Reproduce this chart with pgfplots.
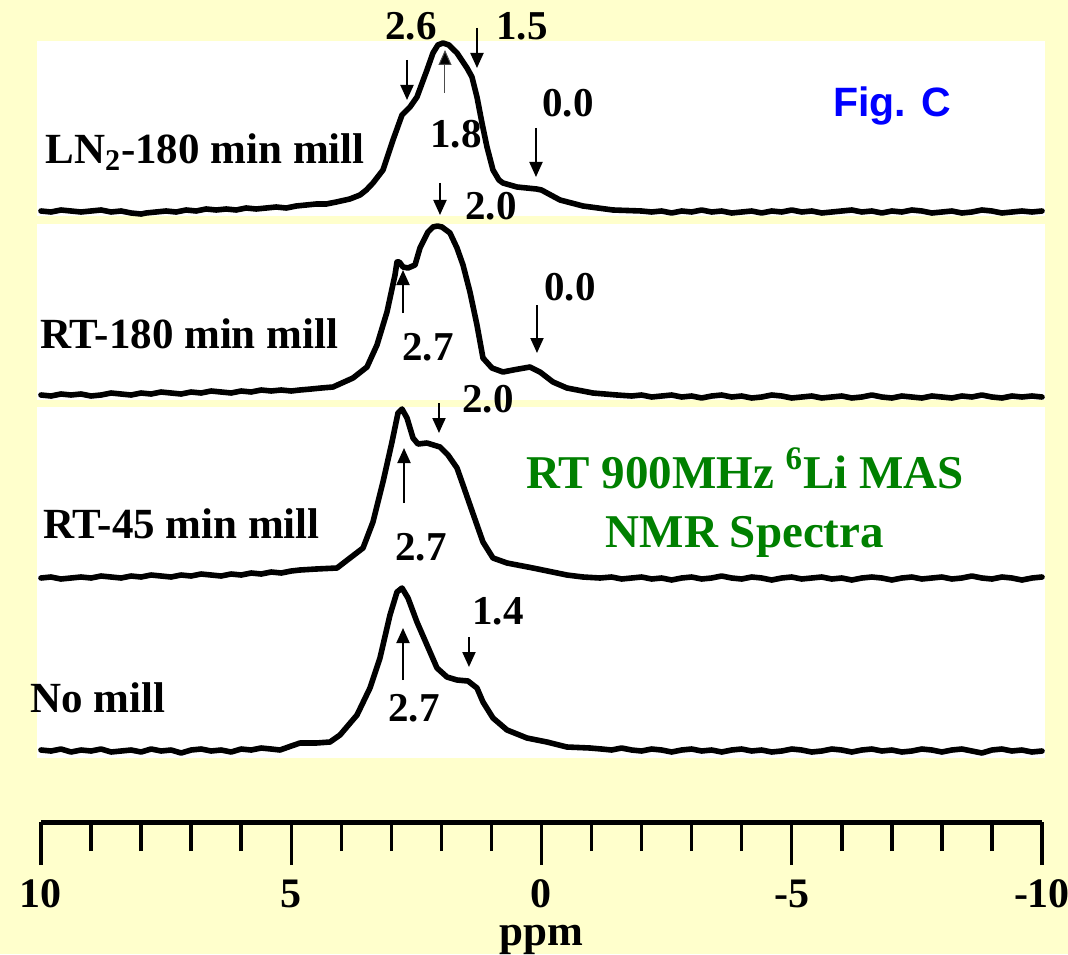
\documentclass[border=0pt]{standalone}
\usepackage{fontspec}
\setmainfont{Liberation Serif}
\newfontfamily\arialf{Liberation Sans}
\usepackage{pgfplots}
\usepackage{pgfplotstable}
\pgfplotsset{compat=1.18}
\usetikzlibrary{arrows.meta}
\definecolor{bgyellow}{HTML}{FFFFCC}
\definecolor{figgreen}{HTML}{008000}
\definecolor{figblue}{HTML}{0000FF}
\newcommand\lab{\bfseries\fontsize{21.5}{25}\selectfont}
\newcommand\num{\bfseries\fontsize{20.5}{24}\selectfont}

% py = vertical position of the trace (pixels from the top of the figure)
\pgfplotstableread{
ppm py
10.0 211
9.8 212
9.6 210
9.4 211
9.2 212
9.0 211
8.8 210
8.6 212
8.4 211
8.2 213
8.0 214
7.9 213
7.7 212
7.5 211
7.3 212
7.1 210
6.9 211
6.7 209
6.5 210
6.3 209
6.1 210
5.9 208
5.7 209
5.5 208
5.3 207
5.1 208
4.9 206
4.7 205
4.5 204
4.3 204
4.1 202
3.83 199
3.626 195
3.5 190
3.367 183
3.167 170
2.967 140
2.787 115
2.627 107
2.488 97
2.288 70
2.168 53
2.07 45
1.968 43
1.85 45
1.75 50
1.688 53
1.488 68
1.389 77
1.289 97
1.189 123
1.089 147
0.969 170
0.85 180
0.769 183
0.490 187
0.1 189
0.0 190
-0.110 193
-0.370 200
-0.829 206
-1.429 210
-2.0 211
-2.2 212
-2.4 211
-2.6 213
-2.8 211
-3.0 212
-3.2 210
-3.4 212
-3.6 211
-3.8 213
-4.0 212
-4.2 211
-4.4 213
-4.6 211
-4.8 212
-5.0 210
-5.2 212
-5.4 211
-5.6 213
-5.8 212
-6.0 211
-6.2 210
-6.4 212
-6.6 211
-6.8 213
-7.0 211
-7.2 212
-7.4 210
-7.6 211
-7.8 213
-8.0 212
-8.2 211
-8.4 213
-8.6 212
-8.8 210
-9.0 211
-9.2 213
-9.4 212
-9.6 211
-9.8 212
-10.0 211
}\specA

\pgfplotstableread{
ppm py
10.0 395
9.8 396
9.6 394
9.4 395
9.2 394
9.0 396
8.8 395
8.6 393
8.4 394
8.2 395
8.0 393
7.8 394
7.6 392
7.4 393
7.2 394
7.0 392
6.8 393
6.6 391
6.4 392
6.2 393
6.0 391
5.8 392
5.6 390
5.4 391
5.2 390
5.0 391
4.825 390
4.6 389
4.4 388
4.166 387
3.766 378
3.487 367
3.287 345
3.087 312
2.927 275
2.887 262
2.840 262
2.767 267
2.667 268
2.527 265
2.428 248
2.268 232
2.168 227
2.08 226
1.988 227
1.828 233
1.688 248
1.568 265
1.429 292
1.289 325
1.169 358
0.989 368
0.769 372
0.569 370
0.230 367
0.030 372
-0.230 382
-0.509 388
-1.029 393
-1.508 395
-1.8 396
-2.0 395
-2.2 397
-2.4 396
-2.6 395
-2.8 397
-3.0 396
-3.2 398
-3.4 396
-3.6 395
-3.8 397
-4.0 396
-4.2 398
-4.4 397
-4.6 395
-4.8 396
-5.0 398
-5.2 397
-5.4 396
-5.6 398
-5.8 397
-6.0 396
-6.2 398
-6.4 397
-6.6 395
-6.8 397
-7.0 398
-7.2 396
-7.4 397
-7.6 398
-7.8 396
-8.0 397
-8.2 398
-8.4 396
-8.6 397
-8.8 395
-9.0 397
-9.2 398
-9.4 396
-9.6 397
-9.8 396
-10.0 397
}\specB

\pgfplotstableread{
ppm py
10.0 578
9.8 577
9.6 579
9.4 578
9.2 577
9.0 578
8.8 576
8.6 577
8.4 578
8.2 576
8.0 577
7.8 575
7.6 576
7.4 577
7.2 575
7.0 576
6.8 574
6.6 575
6.4 576
6.2 574
6.0 575
5.8 573
5.6 574
5.4 572
5.2 573
5.0 571
4.825 570
4.5 569
4.086 568
3.826 558
3.566 548
3.367 522
3.167 482
2.987 442
2.867 413
2.787 409
2.687 418
2.567 438
2.468 444
2.288 443
2.028 447
1.868 455
1.688 468
1.568 485
1.429 505
1.289 525
1.169 542
0.969 558
0.689 563
0.170 568
-0.509 575
-0.829 577
-1.169 578
-1.4 577
-1.6 579
-1.8 578
-2.0 577
-2.2 579
-2.4 578
-2.6 580
-2.8 578
-3.0 577
-3.2 579
-3.4 578
-3.6 576
-3.8 578
-4.0 579
-4.2 577
-4.4 578
-4.6 580
-4.8 578
-5.0 577
-5.2 579
-5.4 578
-5.6 577
-5.8 579
-6.0 578
-6.2 580
-6.4 578
-6.6 577
-6.8 578
-7.0 580
-7.2 578
-7.4 577
-7.6 579
-7.8 578
-8.0 577
-8.2 579
-8.4 578
-8.6 576
-8.8 578
-9.0 579
-9.2 577
-9.4 578
-9.6 580
-9.8 578
-10.0 577
}\specC

\pgfplotstableread{
ppm py
10.0 750
9.8 751
9.6 749
9.4 752
9.2 750
9.0 751
8.8 749
8.6 752
8.4 751
8.2 750
8.0 752
7.8 749
7.6 751
7.4 750
7.2 753
7.0 750
6.8 749
6.6 751
6.4 750
6.2 752
6.0 749
5.8 750
5.6 748
5.4 749
5.225 750
5.0 746
4.825 743
4.5 743
4.226 742
4.026 735
3.686 715
3.427 688
3.227 658
3.027 615
2.887 592
2.787 588
2.667 598
2.488 622
2.288 645
2.088 668
1.888 677
1.688 680
1.469 681
1.289 688
1.169 702
0.969 718
0.689 730
0.290 738
-0.110 742
-0.509 747
-0.969 748
-1.2 749
-1.4 750
-1.6 748
-1.8 750
-2.0 751
-2.2 749
-2.4 750
-2.6 752
-2.8 750
-3.0 749
-3.2 751
-3.4 750
-3.6 752
-3.8 750
-4.0 749
-4.2 751
-4.4 750
-4.6 752
-4.8 751
-5.0 749
-5.2 750
-5.4 752
-5.6 751
-5.8 749
-6.0 750
-6.2 752
-6.4 750
-6.6 749
-6.8 751
-7.0 750
-7.2 752
-7.4 751
-7.6 749
-7.8 750
-8.0 752
-8.2 750
-8.4 749
-8.6 751
-8.8 753
-9.0 750
-9.2 749
-9.4 751
-9.6 750
-9.8 752
-10.0 751
}\specD

\begin{document}
\begin{tikzpicture}
\useasboundingbox (0,0) rectangle (534pt,477pt);
\fill[bgyellow] (0,0) rectangle (534pt,477pt);
\begin{axis}[
  at={(20.5pt,66pt)}, anchor=south west,
  scale only axis, width=500.5pt, height=411pt,
  xmin=-10, xmax=10, ymin=132, ymax=954,
  x dir=reverse,
  axis x line=bottom, axis y line=none, ytick=\empty,
  clip=false,
  xtick={10,5,0,-5,-10}, xticklabels={10,5,0,-5,-10},
  minor x tick num=4,
  tick align=outside,
  major tick length=21.5pt, minor tick length=14.5pt,
  tick style={black, line width=1.7pt},
  x axis line style={-, line width=2.5pt, black},
  xticklabel style={font=\bfseries\fontsize{21}{24}\selectfont, anchor=base, yshift=-21pt, inner sep=0pt},
  xlabel={ppm},
  xlabel style={font=\lab, at={(axis description cs:0.5,0)}, anchor=base, yshift=-61.5pt, inner sep=0pt},
]
% white panels
\fill[white] (axis cs:10.08,913) rectangle (axis cs:-10.06,738);
\fill[white] (axis cs:10.08,730) rectangle (axis cs:-10.06,554);
\fill[white] (axis cs:10.08,547) rectangle (axis cs:-10.06,196);

\addplot[black, line width=2.8pt, line join=round, line cap=round] table[x=ppm, y expr=954-\thisrow{py}] {\specA};
\addplot[black, line width=2.8pt, line join=round, line cap=round] table[x=ppm, y expr=954-\thisrow{py}] {\specB};
\addplot[black, line width=2.8pt, line join=round, line cap=round] table[x=ppm, y expr=954-\thisrow{py}] {\specC};
\addplot[black, line width=2.8pt, line join=round, line cap=round] table[x=ppm, y expr=954-\thisrow{py}] {\specD};

% arrows
\tikzset{pk/.style={black, line width=1pt, -{Triangle[length=7.5pt,width=6.5pt]}}}
\draw[pk] (axis cs:2.687,894) -- (axis cs:2.687,854);
\draw[black!70, line width=0.5pt, -{Triangle[length=7.5pt,width=6.5pt,fill=black]}] (axis cs:1.928,861) -- (axis cs:1.928,904);
\draw[pk] (axis cs:1.289,926) -- (axis cs:1.289,886);
\draw[pk] (axis cs:0.110,826) -- (axis cs:0.110,777);
\draw[pk] (axis cs:2.028,771) -- (axis cs:2.028,739);
\draw[pk] (axis cs:0.090,649) -- (axis cs:0.090,601);
\draw[pk] (axis cs:2.767,641) -- (axis cs:2.767,684);
\draw[pk] (axis cs:2.048,551) -- (axis cs:2.048,521);
\draw[pk] (axis cs:2.747,451) -- (axis cs:2.747,506);
\draw[pk] (axis cs:1.449,317) -- (axis cs:1.449,287);
\draw[pk] (axis cs:2.767,274) -- (axis cs:2.767,326);

% peak numbers
\node[anchor=base, font=\num, inner sep=0pt] at (axis cs:2.607,914) {2.6};
\node[anchor=base, font=\num, inner sep=0pt] at (axis cs:0.390,914) {1.5};
\node[anchor=base, font=\num, inner sep=0pt] at (axis cs:1.708,806) {1.8};
\node[anchor=base, font=\num, inner sep=0pt] at (axis cs:-0.529,837) {0.0};
\node[anchor=base, font=\num, inner sep=0pt] at (axis cs:1.009,735) {2.0};
\node[anchor=base, font=\num, inner sep=0pt] at (axis cs:-0.569,654) {0.0};
\node[anchor=base, font=\num, inner sep=0pt] at (axis cs:2.268,594) {2.7};
\node[anchor=base, font=\num, inner sep=0pt] at (axis cs:1.069,542) {2.0};
\node[anchor=base, font=\num, inner sep=0pt] at (axis cs:2.408,394) {2.7};
\node[anchor=base, font=\num, inner sep=0pt] at (axis cs:0.869,330) {1.4};
\node[anchor=base, font=\num, inner sep=0pt] at (axis cs:2.547,233) {2.7};

% sample labels
\node[anchor=base west, font=\lab, inner sep=0pt] at (axis cs:9.920,790) {LN\textsubscript{2}-180 min mill};
\node[anchor=base west, font=\lab, inner sep=0pt] at (axis cs:10.020,606) {RT-180 min mill};
\node[anchor=base west, font=\lab, inner sep=0pt] at (axis cs:9.960,416) {RT-45 min mill};
\node[anchor=base west, font=\lab, inner sep=0pt] at (axis cs:10.22,242) {No mill};

% titles
\node[anchor=base, font=\bfseries\fontsize{23.5}{28}\selectfont, text=figgreen, inner sep=0pt] at (axis cs:-4.066,466) {RT 900MHz \textsuperscript{6}Li MAS};
\node[anchor=base, font=\bfseries\fontsize{23.5}{28}\selectfont, text=figgreen, inner sep=0pt] at (axis cs:-4.066,407) {NMR Spectra};
\node[anchor=base west, font=\arialf\bfseries\fontsize{20.5}{24}\selectfont, text=figblue, inner sep=0pt] at (axis cs:-5.824,837) {Fig. C};
\end{axis}
\end{tikzpicture}
\end{document}
